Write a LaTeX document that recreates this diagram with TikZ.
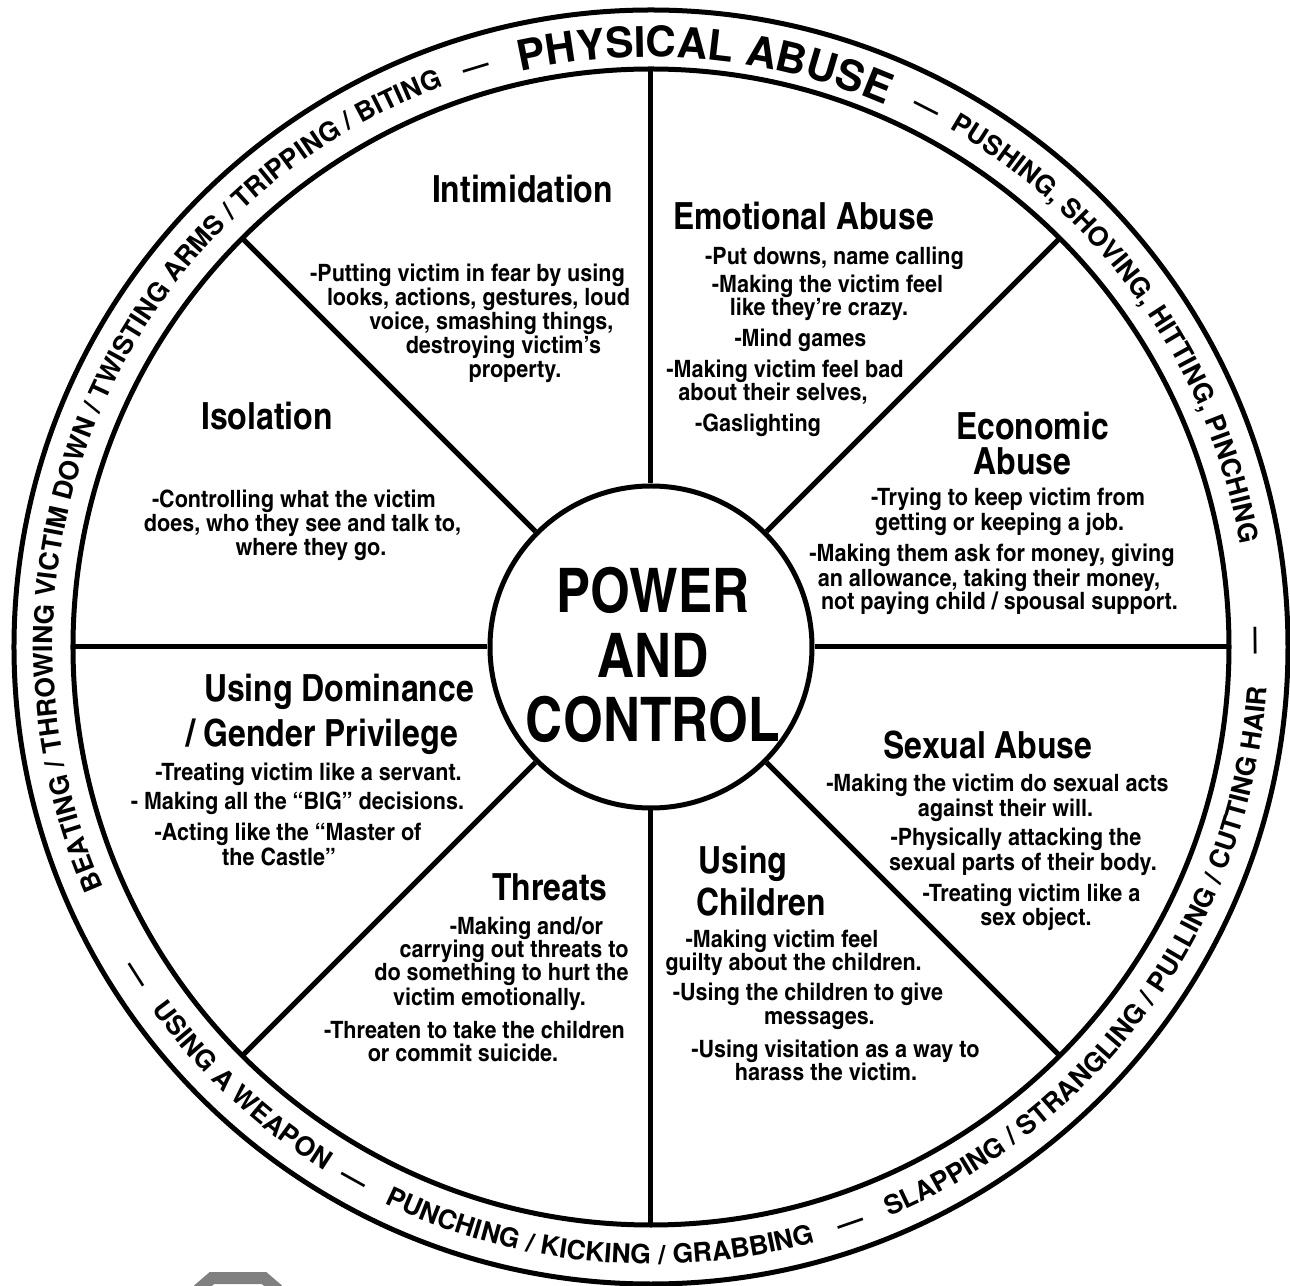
\documentclass[tikz,border=0pt]{standalone}
\usepackage{fontspec}
\usetikzlibrary{decorations.text}
\setmainfont{texgyreheros}[Extension=.otf, UprightFont=*-regular, BoldFont=*-bold]
\newfontfamily\cnfont{texgyreheroscn}[Extension=.otf, UprightFont=*-regular, BoldFont=*-bold, FakeStretch=1.02]
\newfontfamily\cnbody{texgyreheroscn}[Extension=.otf, UprightFont=*-regular, BoldFont=*-bold, FakeStretch=1.1]
\newfontfamily\cnhead{texgyreheroscn}[Extension=.otf, UprightFont=*-regular, BoldFont=*-bold, FakeStretch=1.04]
\newcommand{\ringsmall}{\bfseries\fontsize{15.1}{18}\selectfont}
\newcommand{\ringbig}{\bfseries\fontsize{24}{28}\selectfont}
\newcommand{\bodyfont}{\cnbody\bfseries\fontsize{13.6}{15}\selectfont}
\newcommand{\headfont}{\cnhead\bfseries\fontsize{21.3}{25}\selectfont}
\newcommand{\hubfont}{\cnfont\bfseries\fontsize{35}{36.85}\selectfont}

\begin{document}
\begin{tikzpicture}[line width=0.1cm,
  body/.style={font=\bodyfont, anchor=base, inner sep=0pt},
  head/.style={font=\headfont, anchor=base, inner sep=0pt},
  ringtext/.style={decorate, decoration={text along path, text align=center, text={|\ringsmall|#1}}},
  ringbig/.style={decorate, decoration={text along path, text align=center, text={|\ringbig|#1}}}]
\useasboundingbox (-13.02,-12.78) rectangle (12.78,12.94);

% wheel
\draw (0,0) circle[radius=12.74];
\draw (0,0) circle[radius=11.56];
\node[circle, draw, minimum size=6.44cm, inner sep=0pt] (hub) at (0,0) {};
\foreach \a in {0,45,...,315}
  \draw (hub.\a) -- (\a:11.56);
\node[font=\hubfont, align=center, inner sep=0pt] (hubtext) at (0.04,-0.16) {POWER\\AND\\CONTROL};

% rim, upper half (clockwise)
\path[ringtext={BEATING / THROWING VICTIM DOWN / TWISTING ARMS / TRIPPING / BITING}] (227:11.96) arc[start angle=227, end angle=87, radius=11.96];
\path[ringtext={—}] (116.8:11.96) arc[start angle=116.8, end angle=96.8, radius=11.96];
\path[ringbig={PHYSICAL ABUSE}] (144.7:11.8) arc[start angle=144.7, end angle=24.7, radius=11.8];
\path[ringtext={—}] (72.9:11.96) arc[start angle=72.9, end angle=52.9, radius=11.96];
\path[ringtext={PUSHING, SHOVING, HITTING, PINCHING}] (95:11.96) arc[start angle=95, end angle=-25, radius=11.96];
\path[ringtext={—}] (10.6:11.96) arc[start angle=10.6, end angle=-9.4, radius=11.96];

% rim, lower half (counter-clockwise)
\path[ringtext={—}] (202.5:12.34) arc[start angle=202.5, end angle=222.5, radius=12.34];
\path[ringtext={USING A WEAPON}] (167:12.34) arc[start angle=167, end angle=287, radius=12.34];
\path[ringtext={—}] (230.8:12.34) arc[start angle=230.8, end angle=250.8, radius=12.34];
\path[ringtext={PUNCHING / KICKING / GRABBING}] (204.9:12.34) arc[start angle=204.9, end angle=324.9, radius=12.34];
\path[ringtext={—}] (279.1:12.34) arc[start angle=279.1, end angle=299.1, radius=12.34];
\path[ringtext={SLAPPING / STRANGLING / PULLING / CUTTING HAIR}] (264.5:12.34) arc[start angle=264.5, end angle=384.5, radius=12.34];

% Intimidation
\node[head] (intimhead) at (-2.57,8.88) {Intimidation};
\node[body] (intim1) at (-3.67,7.30) {-Putting victim in fear by using};
\node[body] (intim2) at (-3.45,6.82) {looks, actions, gestures, loud};
\node[body] (intim3) at (-3.19,6.34) {voice, smashing things,};
\node[body] (intim4) at (-2.95,5.86) {destroying victim’s};
\node[body] (intim5) at (-2.72,5.38) {property.};

% Emotional Abuse
\node[head] (emothead) at (3.05,8.34) {Emotional Abuse};
\node[body] (emot1) at (3.67,7.64) {-Put downs, name calling};
\node[body] (emot2) at (3.53,7.08) {-Making the victim feel};
\node[body] (emot3) at (3.36,6.62) {like they’re crazy.};
\node[body] (emot4) at (2.99,6.00) {-Mind games};
\node[body] (emot5) at (2.68,5.38) {-Making victim feel bad};
\node[body] (emot6) at (2.44,4.92) {about their selves,};
\node[body] (emot7) at (2.14,4.30) {-Gaslighting};

% Economic Abuse
\node[head] (econhead1) at (7.63,4.14) {Economic};
\node[head] (econhead2) at (7.43,3.44) {Abuse};
\node[body] (econ1) at (7.14,2.82) {-Trying to keep victim from};
\node[body] (econ2) at (6.97,2.32) {getting or keeping a job.};
\node[body] (econ3) at (6.82,1.70) {-Making them ask for money, giving};
\node[body] (econ4) at (6.76,1.20) {an allowance, taking their money,};
\node[body] (econ5) at (6.97,0.74) {not paying child / spousal support.};

% Sexual Abuse
\node[head] (sexualhead) at (6.74,-2.24) {Sexual Abuse};
\node[body] (sexual1) at (6.93,-2.90) {-Making the victim do sexual acts};
\node[body] (sexual2) at (7.09,-3.40) {against their will.};
\node[body] (sexual3) at (7.30,-3.98) {-Physically attacking the};
\node[body] (sexual4) at (7.44,-4.48) {sexual parts of their body.};
\node[body] (sexual5) at (7.61,-5.10) {-Treating victim like a};
\node[body] (sexual6) at (7.70,-5.58) {sex object.};

% Using Children
\node[head, anchor=base west] (childhead1) at (0.90,-4.54) {Using};
\node[head, anchor=base west] (childhead2) at (0.86,-5.38) {Children};
\node[body] (child1) at (2.62,-6.00) {-Making victim feel};
\node[body] (child2) at (2.85,-6.46) {guilty about the children.};
\node[body] (child3) at (3.14,-7.08) {-Using the children to give};
\node[body] (child4) at (3.37,-7.54) {messages.};
\node[body] (child5) at (3.69,-8.20) {-Using visitation as a way to};
\node[body] (child6) at (3.50,-8.66) {harass the victim.};

% Threats
\node[head] (threathead) at (-2.02,-5.08) {Threats};
\node[body] (threat1) at (-2.49,-5.76) {-Making and/or};
\node[body] (threat2) at (-2.74,-6.22) {carrying out threats to};
\node[body] (threat3) at (-2.99,-6.66) {do something to hurt the};
\node[body] (threat4) at (-3.23,-7.16) {victim emotionally.};
\node[body] (threat5) at (-3.53,-7.82) {-Threaten to take the children};
\node[body] (threat6) at (-3.76,-8.28) {or commit suicide.};

% Using Dominance
\node[head] (dominhead1) at (-6.24,-1.10) {Using Dominance};
\node[head] (dominhead2) at (-6.58,-2.00) {/ Gender Privilege};
\node[body] (domin1) at (-6.85,-2.68) {-Treating victim like a servant.};
\node[body] (domin2) at (-7.07,-3.26) {- Making all the “BIG” decisions.};
\node[body] (domin3) at (-7.26,-3.88) {-Acting like the “Master of};
\node[body] (domin4) at (-7.44,-4.38) {the Castle”};

% Isolation
\node[head] (isolhead) at (-7.68,4.34) {Isolation};
\node[body] (isol1) at (-7.14,2.78) {-Controlling what the victim};
\node[body] (isol2) at (-6.97,2.30) {does, who they see and talk to,};
\node[body] (isol3) at (-6.80,1.82) {where they go.};

% cut-off shape at the foot
\draw[gray, line width=0.24cm] (-9.06,-12.86) -- (-8.78,-12.62) -- (-7.74,-12.62) -- (-7.46,-12.86);
\end{tikzpicture}
\end{document}
